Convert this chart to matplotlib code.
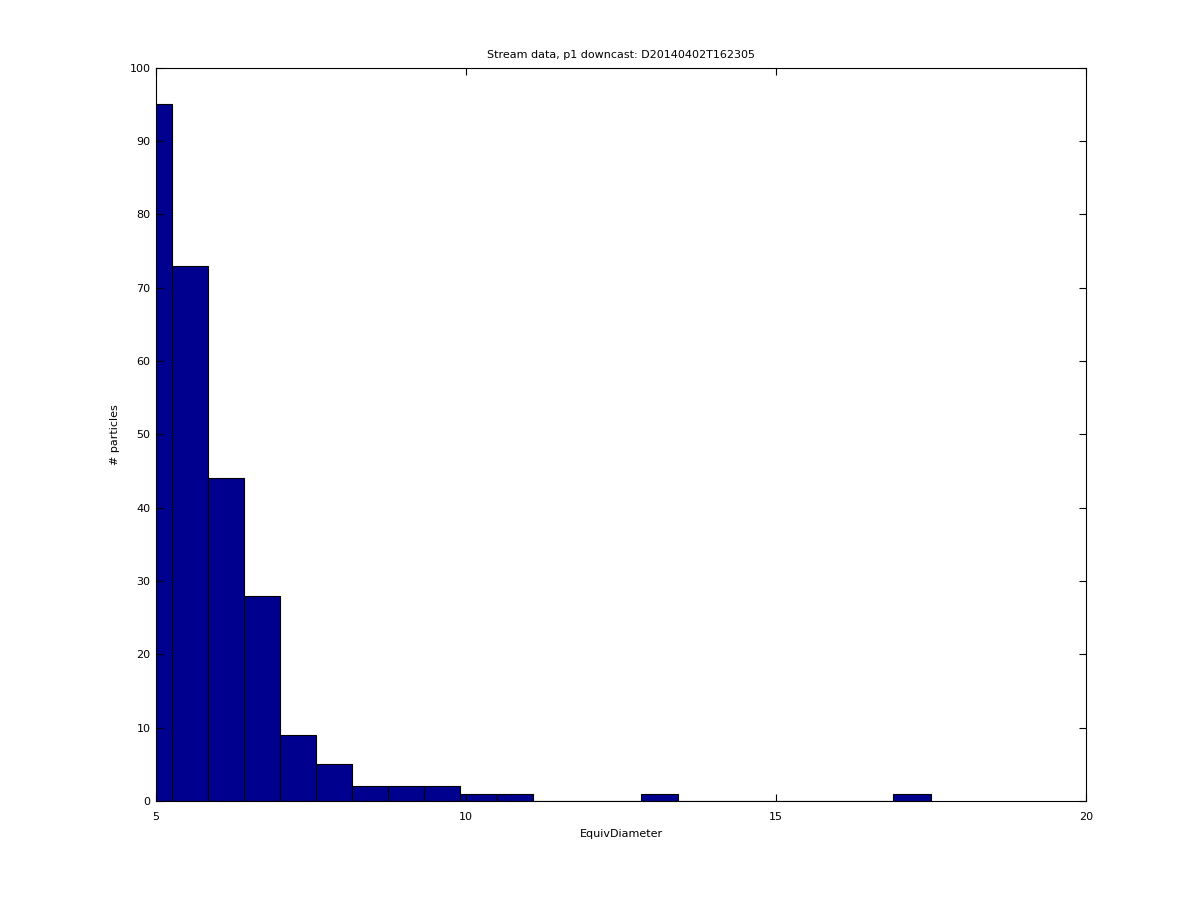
import numpy as np
import matplotlib
matplotlib.use("Agg")
import matplotlib.pyplot as plt

# histogram data
bin_edges = [4.672, 5.253, 5.834, 6.415, 6.995, 7.576, 8.156, 8.745, 9.327,
             9.908, 10.495, 11.076, 11.657, 12.238, 12.823, 13.415, 13.996,
             14.577, 15.158, 15.739, 16.320, 16.887, 17.495]
counts = [95, 73, 44, 28, 9, 5, 2, 2, 2, 1, 1, 0, 0, 0, 1, 0, 0, 0, 0, 0, 0, 1]
x_ticks = [5, 10, 15, 20]
y_ticks = [0, 10, 20, 30, 40, 50, 60, 70, 80, 90, 100]

title = "Stream data, p1 downcast: D20140402T162305"
xlabel = "EquivDiameter"
ylabel = "# particles"

plt.rcParams['font.family'] = ['DejaVu Sans']
fig = plt.figure(figsize=(12, 9), dpi=100)
ax = fig.add_axes([0.13, 0.11, 0.775, 0.815])

edges = np.array(bin_edges)
widths = np.diff(edges)
ax.bar(edges[:-1], counts, width=widths, align='edge',
       color=(0, 0, 0.5625), edgecolor='black', linewidth=0.8)

ax.set_xlim(5, 20)
ax.set_ylim(0, 100)
ax.set_xticks(x_ticks)
ax.set_yticks(y_ticks)
ax.tick_params(direction='in', top=True, right=True, labelsize=8,
               length=5, width=0.8)
ax.tick_params(axis='x', pad=8)
ax.tick_params(axis='y', pad=4)
for s in ax.spines.values():
    s.set_linewidth(0.8)
ax.set_axisbelow(False)

ax.set_title(title, fontsize=8, pad=7)
ax.set_xlabel(xlabel, fontsize=8, labelpad=5)
ax.set_ylabel(ylabel, fontsize=8, labelpad=7)

fig.savefig("out.png", dpi=100)
